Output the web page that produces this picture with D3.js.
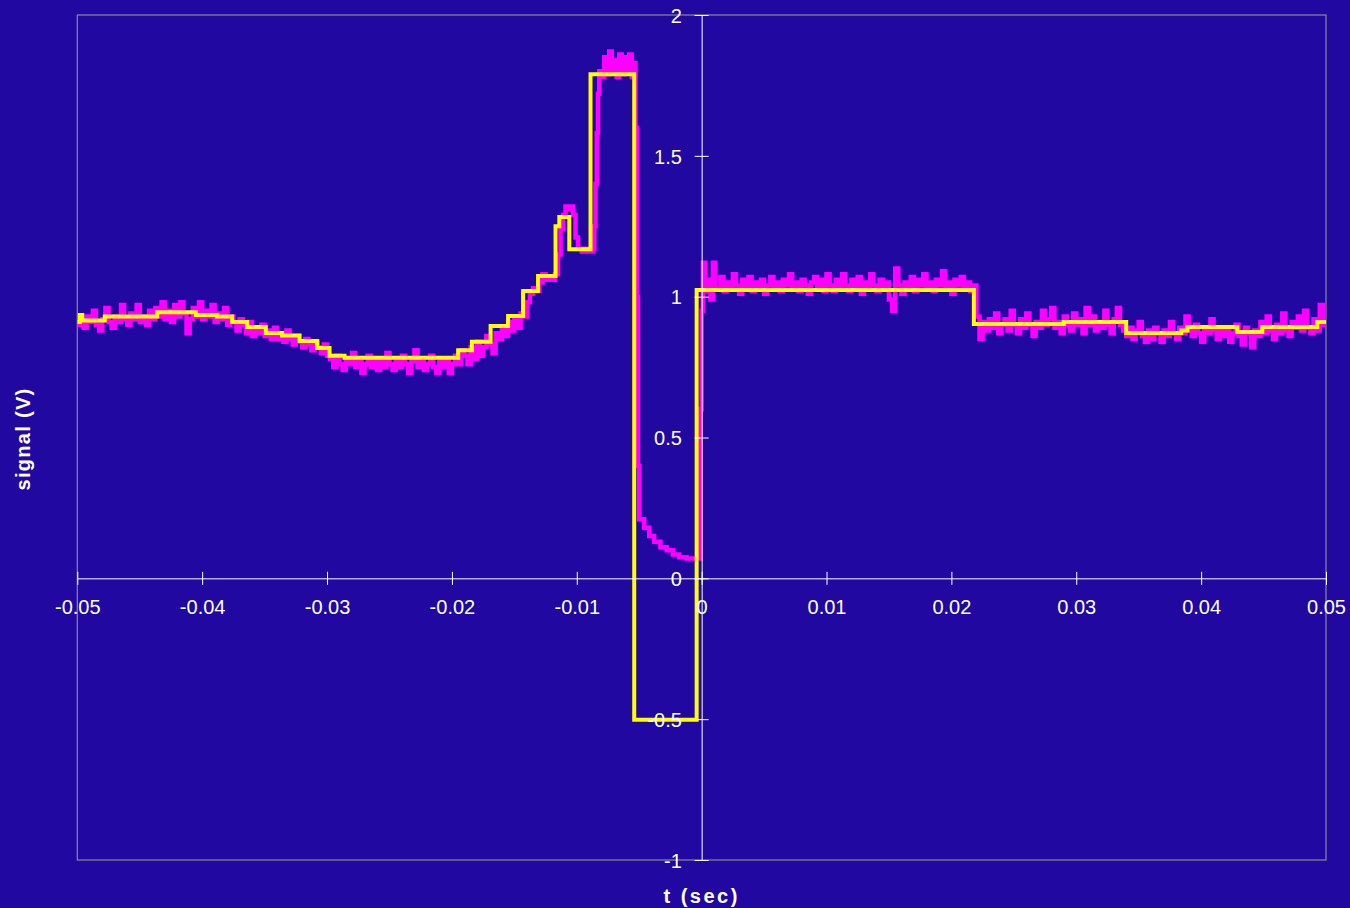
<!DOCTYPE html>
<html><head><meta charset="utf-8">
<script src="https://cdn.jsdelivr.net/npm/d3@7"></script>
<style>html,body{margin:0;padding:0;background:#2008A0;} svg{display:block}</style>
</head><body>
<svg id="chart" width="1350" height="908"></svg>
<script>
// ---- data (time in ms, signal in V) ----
const xTicks = [-0.05,-0.04,-0.03,-0.02,-0.01,0,0.01,0.02,0.03,0.04,0.05];
const xTickLabels = ["-0.05","-0.04","-0.03","-0.02","-0.01","0","0.01","0.02","0.03","0.04","0.05"];
const yTicks = [-1,-0.5,0,0.5,1,1.5,2];
const yTickLabels = ["-1","-0.5","0","0.5","1","1.5","2"];
const xTitle = "t (sec)";
const yTitle = "signal (V)";

// yellow (stepped / quantised) trace: [t_ms, V], value holds until next point
const yellowSteps = [
 [-50.0,0.91],[-49.8,0.935],[-49.6,0.915],[-47.8,0.93],[-43.6,0.945],[-40.5,0.935],
 [-38.8,0.93],[-37.6,0.91],[-36.4,0.892],[-34.9,0.871],[-33.6,0.862],[-32.2,0.843],
 [-30.8,0.818],[-29.8,0.79],[-28.6,0.783],[-19.5,0.81],[-18.4,0.84],[-16.9,0.896],
 [-15.5,0.931],[-14.3,1.02],[-13.1,1.073],[-11.7,1.25],[-11.4,1.283],[-10.6,1.168],
 [-8.9,1.79],[-5.4,-0.502],[-0.4,1.024],[21.8,0.903],[29.0,0.91],[34.0,0.871],
 [38.4,0.88],[38.9,0.892],[42.9,0.875],[44.9,0.892],[49.3,0.91],[50.0,0.91]
];

// magenta (raw, noisy) trace, sampled every 0.25 ms in the noisy stretches
const sampleStep = 0.25;
const magStartA = -50.0;   // -50.0 .. -30.0
const magA = [0.90,0.92,0.89,0.93,0.91,0.95,0.90,0.88, 0.92,0.96,0.91,0.89,0.93,0.91,0.97,0.92,
 0.90,0.94,0.92,0.97,0.91,0.93,0.90,0.95, 0.92,0.96,0.93,0.98,0.92,0.95,0.91,0.97,
 0.93,0.98,0.94,0.87,0.92,0.96,0.93,0.98, 0.92,0.95,0.93,0.97,0.91,0.94,0.92,0.96,
 0.90,0.93,0.91,0.88,0.92,0.90,0.87,0.91, 0.86,0.89,0.87,0.90,0.86,0.88,0.85,0.89,
 0.85,0.87,0.84,0.88,0.85,0.83,0.86,0.84, 0.82,0.85,0.83,0.81,0.84,0.82,0.80,0.83, 0.79];
const magStartB = -29.75;  // -29.75 .. -19.25
const magB = [0.78,0.75,0.79,0.76,0.74,0.78,0.76,0.80, 0.75,0.77,0.73,0.76,0.79,0.75,0.77,0.74,
 0.78,0.75,0.80,0.76,0.74,0.77,0.75,0.79, 0.76,0.73,0.77,0.81,0.75,0.77,0.74,0.76,
 0.79,0.75,0.73,0.77,0.75,0.78,0.73,0.76, 0.79,0.76,0.81];
const magStartC = -19.0;   // -19.0 .. -12.0
const magC = [0.79,0.76,0.82,0.78, 0.84,0.79,0.82,0.86, 0.83,0.80,0.87,0.85, 0.89,0.86,0.91,0.88,
 0.92,0.89,0.94,0.93, 0.98,1.01,1.03,1.02, 1.05,1.08,1.06,1.07, 1.06];
const magPeak = [
 [-11.75,1.08],[-11.5,1.15],[-11.3,1.24],[-11.1,1.29],[-10.9,1.32],[-10.7,1.31],[-10.5,1.32],
 [-10.3,1.29],[-10.1,1.21],[-9.9,1.17],[-9.6,1.16],[-9.3,1.17],[-9.0,1.16],[-8.7,1.17],
 [-8.6,1.25],[-8.5,1.40],[-8.4,1.58],[-8.3,1.72],[-8.2,1.80],
 [-8.0,1.78],[-7.8,1.85],[-7.6,1.79],[-7.4,1.87],[-7.2,1.80],[-7.0,1.84],[-6.8,1.78],[-6.6,1.86],
 [-6.4,1.79],[-6.2,1.85],[-6.0,1.80],[-5.8,1.86],[-5.6,1.78],[-5.4,1.83],[-5.3,1.60],[-5.2,1.00],
 [-5.1,0.40],[-5.0,0.21],[-4.6,0.18],[-4.2,0.15],[-3.8,0.13],[-3.3,0.11],[-2.8,0.10],[-2.3,0.085],
 [-1.8,0.075],[-1.2,0.07],[-0.1,0.60],[0.0,0.95],[0.1,1.12],[0.3,1.02],[0.5,1.06],[0.7,0.99],
 [0.9,1.12],[1.1,1.03]
];
const magStartF = 1.25;    // 1.25 .. 21.75
const magF = [1.03,1.07,1.02,1.05, 1.03,1.08,1.04,1.01, 1.06,1.03,1.07,1.02, 1.05,1.03,1.06,1.01,
 1.04,1.07,1.03,1.05, 1.02,1.06,1.04,1.08, 1.03,1.05,1.02,1.06, 1.04,1.01,1.05,1.07,
 1.03,1.06,1.02,1.08, 1.04,1.02,1.06,1.03, 1.08,1.04,1.02,1.06, 1.03,1.07,1.01,1.05,
 1.03,1.08,1.04,1.02, 1.06,1.03,1.05,0.99, 0.95,1.10,1.04,1.01, 1.05,1.03,1.07,1.02,
 1.06,1.04,1.08,1.03, 1.05,1.02,1.06,1.04, 1.09,1.03,1.05,1.01, 1.06,1.04,1.07,1.03,
 1.05,1.02,1.04];
const magStartG = 22.0;    // 22.0 .. 33.75
const magG = [0.93,0.85,0.91,0.88, 0.92,0.89,0.94,0.87, 0.90,0.92,0.88,0.95, 0.90,0.87,0.92,0.89,
 0.94,0.90,0.86,0.91, 0.89,0.95,0.90,0.92, 0.96,0.89,0.91,0.87, 0.93,0.90,0.88,0.94,
 0.90,0.92,0.87,0.96, 0.90,0.93,0.88,0.91, 0.89,0.95,0.90,0.87, 0.92,0.96,0.90,0.88];
const magStartH = 34.0;    // 34.0 .. 50.0
const magH = [0.86,0.89,0.85,0.88, 0.91,0.86,0.84,0.88, 0.85,0.89,0.87,0.84, 0.88,0.86,0.91,0.87,
 0.85,0.89,0.87,0.93, 0.88,0.86,0.90,0.87, 0.84,0.89,0.87,0.92, 0.88,0.85,0.89,0.86,
 0.88,0.84,0.87,0.90, 0.86,0.83,0.89,0.87, 0.82,0.88,0.86,0.91, 0.87,0.93,0.88,0.85,
 0.90,0.87,0.94,0.88, 0.86,0.91,0.89,0.93, 0.88,0.95,0.89,0.87, 0.92,0.88,0.97,0.90, 0.91];

// pair sampled values with their sample times
const sampled = (t0, vals) => vals.map((v,i)=>[t0 + i*sampleStep, v]);
const magenta = [].concat(
  sampled(magStartA, magA), sampled(magStartB, magB), sampled(magStartC, magC),
  magPeak,
  sampled(magStartF, magF), sampled(magStartG, magG), sampled(magStartH, magH)
);

// ---- layout ----
const svg = d3.select("#chart");
const bg = "#2008A0";
const font = "'Liberation Sans', Arial, Helvetica, sans-serif";
svg.append("rect").attr("width",1350).attr("height",908).attr("fill",bg);

const x = d3.scaleLinear().domain([-0.05,0.05]).range([77.3,1326]);
const y = d3.scaleLinear().domain([-1,2]).range([860,15]);

// plot border
svg.append("rect")
  .attr("x", x(-0.05)).attr("y", y(2))
  .attr("width", x(0.05)-x(-0.05)).attr("height", y(-1)-y(2))
  .attr("fill","none").attr("stroke","#8a8a9a").attr("stroke-width",1.2);

// axes
const gx = svg.append("g").attr("transform",`translate(0,${y(0)})`)
  .call(d3.axisBottom(x).tickValues(xTicks).tickFormat((d,i)=>xTickLabels[i]).tickSize(6.5).tickSizeOuter(0));
const gy = svg.append("g").attr("transform",`translate(${x(0)},0)`)
  .call(d3.axisLeft(y).tickValues(yTicks).tickFormat((d,i)=>yTickLabels[i]).tickSize(7).tickSizeOuter(0));

[gx,gy].forEach(g=>{
  g.select(".domain").attr("stroke","#ffffff").attr("stroke-width",1);
  g.selectAll(".tick line").attr("stroke","#ffffff").attr("stroke-width",1);
});
gx.selectAll(".tick line").attr("y1",-6.5).attr("y2",6.5);
gy.selectAll(".tick line").attr("x1",-7).attr("x2",7);

// series
svg.append("clipPath").attr("id","plotclip").append("rect")
  .attr("x", x(-0.05)).attr("y", y(2)).attr("width", x(0.05)-x(-0.05)).attr("height", y(-1)-y(2));
const series = svg.append("g").attr("clip-path","url(#plotclip)");

const stepLine = d3.line().x(d=>x(d[0]/1000)).y(d=>y(d[1])).curve(d3.curveStepAfter);

series.append("path").datum(magenta).attr("d",stepLine)
  .attr("fill","none").attr("stroke","#FF00FF").attr("stroke-width",4.5).attr("stroke-linejoin","miter");
series.append("path").datum(yellowSteps).attr("d",stepLine)
  .attr("fill","none").attr("stroke","#FFFF00").attr("stroke-width",4).attr("stroke-linejoin","miter");

// tick labels on top
gx.raise(); gy.raise();
gx.selectAll(".tick text").attr("fill","#ffffff").attr("font-family",font).attr("font-size",20)
  .attr("y",36).attr("dy",null);
gy.selectAll(".tick text").attr("fill","#ffffff").attr("font-family",font).attr("font-size",20)
  .attr("x",-19.8).attr("dy","0.36em");
gx.select(".domain").lower();
gy.select(".domain").lower();

// titles
svg.append("text").attr("x",x(0)).attr("y",903).attr("text-anchor","middle")
  .attr("font-family",font).attr("font-weight","bold").attr("font-size",20)
  .attr("letter-spacing","2.5px").attr("fill","#ffffff").text(xTitle);
svg.append("text").attr("transform","translate(30,439) rotate(-90)").attr("text-anchor","middle")
  .attr("font-family",font).attr("font-weight","bold").attr("font-size",20)
  .attr("letter-spacing","1.3px").attr("fill","#ffffff").text(yTitle);
</script>
</body></html>
